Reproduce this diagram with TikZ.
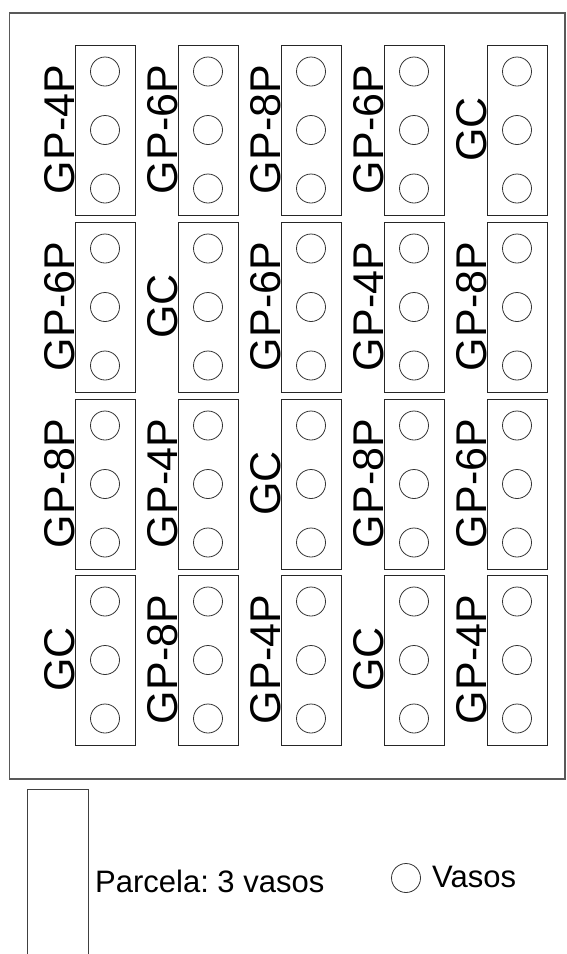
\documentclass[tikz,border=0pt]{standalone}
\usepackage{fontspec}
\setmainfont{Liberation Sans}
\frenchspacing
\usetikzlibrary{positioning}
\tikzset{
	plotbox/.style={
			rectangle,
			draw=black!85,
			line width=1pt,
			minimum width=60pt,
			minimum height=170pt,
			inner sep=0pt
		},
	vaso/.style={
			circle,
			draw=black!80,
			line width=0.8pt,
			minimum size=29pt,
			inner sep=0pt
		},
	tagnode/.style={
			rotate=90,
			anchor=base,
			inner sep=0pt,
			xshift=0.5pt,
			font=\fontsize{43}{43}\selectfont
		},
	legendtext/.style={
			anchor=base west,
			inner sep=0pt,
			font=\fontsize{31}{31}\selectfont
		}
}

\begin{document}
\begin{tikzpicture}[x=1pt, y=-1pt]
\useasboundingbox (0,0) rectangle (566,954);
\draw[black!65, line width=1.5pt] (9.5,13) rectangle (565,779);

% row 1
\node[plotbox] (p11) at (105,130) {}; \node[tagnode] at (p11.west) {GP-4P};
\node[plotbox] (p12) at (208,130) {}; \node[tagnode] at (p12.west) {GP-6P};
\node[plotbox] (p13) at (311,130) {}; \node[tagnode] at (p13.west) {GP-8P};
\node[plotbox] (p14) at (414,130) {}; \node[tagnode] at (p14.west) {GP-6P};
\node[plotbox] (p15) at (517,130) {}; \node[tagnode] at (p15.west) {GC};

% row 2
\node[plotbox] (p21) at (105,307) {}; \node[tagnode] at (p21.west) {GP-6P};
\node[plotbox] (p22) at (208,307) {}; \node[tagnode] at (p22.west) {GC};
\node[plotbox] (p23) at (311,307) {}; \node[tagnode] at (p23.west) {GP-6P};
\node[plotbox] (p24) at (414,307) {}; \node[tagnode] at (p24.west) {GP-4P};
\node[plotbox] (p25) at (517,307) {}; \node[tagnode] at (p25.west) {GP-8P};

% row 3
\node[plotbox] (p31) at (105,484) {}; \node[tagnode] at (p31.west) {GP-8P};
\node[plotbox] (p32) at (208,484) {}; \node[tagnode] at (p32.west) {GP-4P};
\node[plotbox] (p33) at (311,484) {}; \node[tagnode] at (p33.west) {GC};
\node[plotbox] (p34) at (414,484) {}; \node[tagnode] at (p34.west) {GP-8P};
\node[plotbox] (p35) at (517,484) {}; \node[tagnode] at (p35.west) {GP-6P};

% row 4
\node[plotbox] (p41) at (105,660) {}; \node[tagnode] at (p41.west) {GC};
\node[plotbox] (p42) at (208,660) {}; \node[tagnode] at (p42.west) {GP-8P};
\node[plotbox] (p43) at (311,660) {}; \node[tagnode] at (p43.west) {GP-4P};
\node[plotbox] (p44) at (414,660) {}; \node[tagnode] at (p44.west) {GC};
\node[plotbox] (p45) at (517,660) {}; \node[tagnode] at (p45.west) {GP-4P};

% three pots per plot
\foreach \p in {p11,p12,p13,p14,p15,p21,p22,p23,p24,p25,
                p31,p32,p33,p34,p35,p41,p42,p43,p44,p45} {
  \node[vaso] (\p a) at ([yshift=58.5pt]\p) {};
  \node[vaso] (\p b) at (\p) {};
  \node[vaso] (\p c) at ([yshift=-58.5pt]\p) {};
}

% legend
\coordinate (lgl) at (27,954);
\coordinate (lgr) at (88,954);
\draw[black!75, line width=1pt] (lgl) -- (27,789) -- (88,789) -- (lgr);
\node[legendtext] (parcela) at (95,892) {Parcela: 3 vasos};
\node[vaso] (legvaso) at (406,878) {};
\node[legendtext] (vasos) at (432,887) {Vasos};
\end{tikzpicture}
\end{document}
